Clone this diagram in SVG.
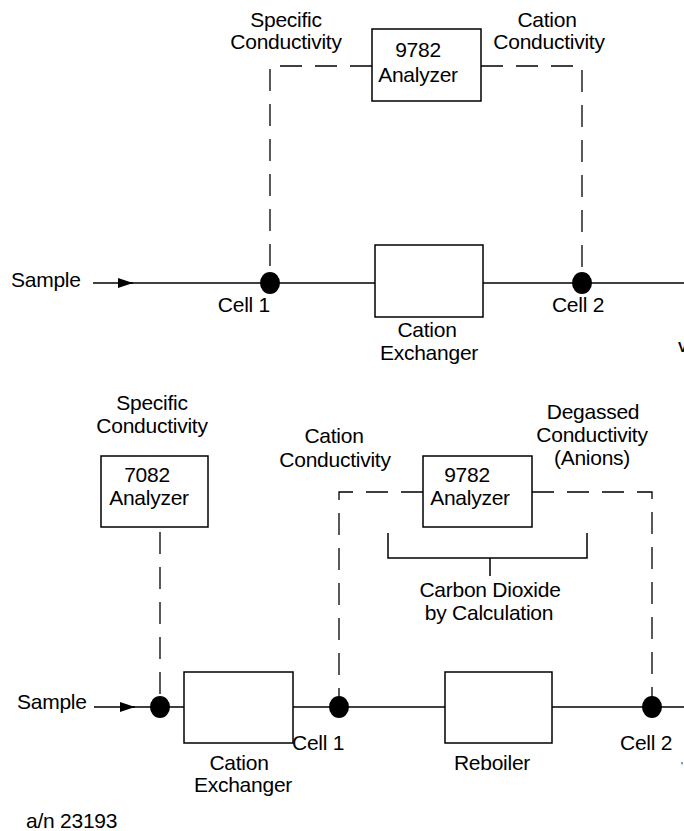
<svg xmlns="http://www.w3.org/2000/svg" width="684" height="831" viewBox="0 0 684 831">
<style>
text{font-family:"Liberation Sans",Arial,sans-serif;font-size:21px;letter-spacing:-0.25px;fill:#000}
.c{text-anchor:middle}
.box{fill:#fff;stroke:#000;stroke-width:1.5}
.ln{fill:none;stroke:#000;stroke-width:1.5}
.dash{fill:none;stroke:#000;stroke-width:1.3;stroke-dasharray:22 13}
.dot{fill:#000}
</style>
<defs>
<marker id="arr" markerWidth="15" markerHeight="10" refX="15" refY="5" orient="auto" markerUnits="userSpaceOnUse">
<path d="M0,0 L15,5 L0,10 Z" fill="#000"/>
</marker>
</defs>

<g id="connectors">
<path class="ln" d="M93,283 H133" marker-end="url(#arr)"/>
<path class="ln" d="M131,283 H684"/>
<path class="dash" d="M372,66 H270 V283"/>
<path class="dash" d="M481,66 H582 V283"/>
<path class="ln" d="M94,707 H135" marker-end="url(#arr)"/>
<path class="ln" d="M133,707 H684"/>
<path class="dash" d="M160,532 V707"/>
<path class="dash" d="M423,492 H339 V707"/>
<path class="dash" d="M532,492 H652 V707"/>
<path class="ln" d="M388,533 V558 H587 V533 M490,558 V576"/>
</g>

<g id="top-sample"><text x="11" y="287">Sample</text></g>
<g id="top-cell1"><ellipse class="dot" cx="270" cy="283" rx="10" ry="11"/><text x="270" y="312" text-anchor="end">Cell 1</text></g>
<g id="top-cell2"><ellipse class="dot" cx="582" cy="283" rx="10" ry="11"/><text class="c" x="578" y="312">Cell 2</text></g>
<g id="top-exchanger"><rect class="box" x="375" y="245" width="108" height="72"/><text class="c" x="427" y="337">Cation</text><text class="c" x="429" y="360">Exchanger</text></g>
<g id="top-analyzer"><rect class="box" x="372" y="29" width="109" height="72"/><text class="c" x="418" y="57">9782</text><text class="c" x="418" y="82">Analyzer</text></g>
<g id="top-specific"><text class="c" x="286" y="27">Specific</text><text class="c" x="286" y="49">Conductivity</text></g>
<g id="top-cation"><text class="c" x="547" y="27">Cation</text><text class="c" x="549" y="49">Conductivity</text></g>
<text x="678" y="352" style="font-size:14px;font-weight:bold">V</text>

<g id="bot-specific"><text class="c" x="152" y="410">Specific</text><text class="c" x="152" y="433">Conductivity</text></g>
<g id="bot-7082"><rect class="box" x="101" y="456" width="107" height="71"/><text class="c" x="147" y="482">7082</text><text class="c" x="149" y="505">Analyzer</text></g>
<g id="bot-cation"><text class="c" x="334" y="443">Cation</text><text class="c" x="335" y="467">Conductivity</text></g>
<g id="bot-9782"><rect class="box" x="423" y="456" width="109" height="71"/><text class="c" x="467" y="482">9782</text><text class="c" x="470" y="505">Analyzer</text></g>
<g id="bot-degassed"><text class="c" x="593" y="419">Degassed</text><text class="c" x="592" y="442">Conductivity</text><text class="c" x="592" y="465">(Anions)</text></g>
<g id="bot-co2"><text class="c" x="490" y="597">Carbon Dioxide</text><text class="c" x="489" y="620">by Calculation</text></g>
<g id="bot-sample"><text x="17" y="709">Sample</text></g>
<g id="bot-dot0"><ellipse class="dot" cx="160" cy="707" rx="10" ry="11"/></g>
<g id="bot-exchanger"><rect class="box" x="184" y="672" width="109" height="71"/><text class="c" x="239" y="770">Cation</text><text class="c" x="243" y="792">Exchanger</text></g>
<g id="bot-cell1"><ellipse class="dot" cx="339" cy="707" rx="10" ry="11"/><text x="292" y="750">Cell 1</text></g>
<g id="bot-reboiler"><rect class="box" x="445" y="672" width="107" height="71"/><text class="c" x="492" y="770">Reboiler</text></g>
<g id="bot-cell2"><ellipse class="dot" cx="652" cy="707" rx="10" ry="11"/><text x="620" y="750">Cell 2</text></g>
<text x="681" y="770" style="font-size:10px">'</text>
<g id="an"><text x="26" y="828">a/n 23193</text></g>
</svg>
